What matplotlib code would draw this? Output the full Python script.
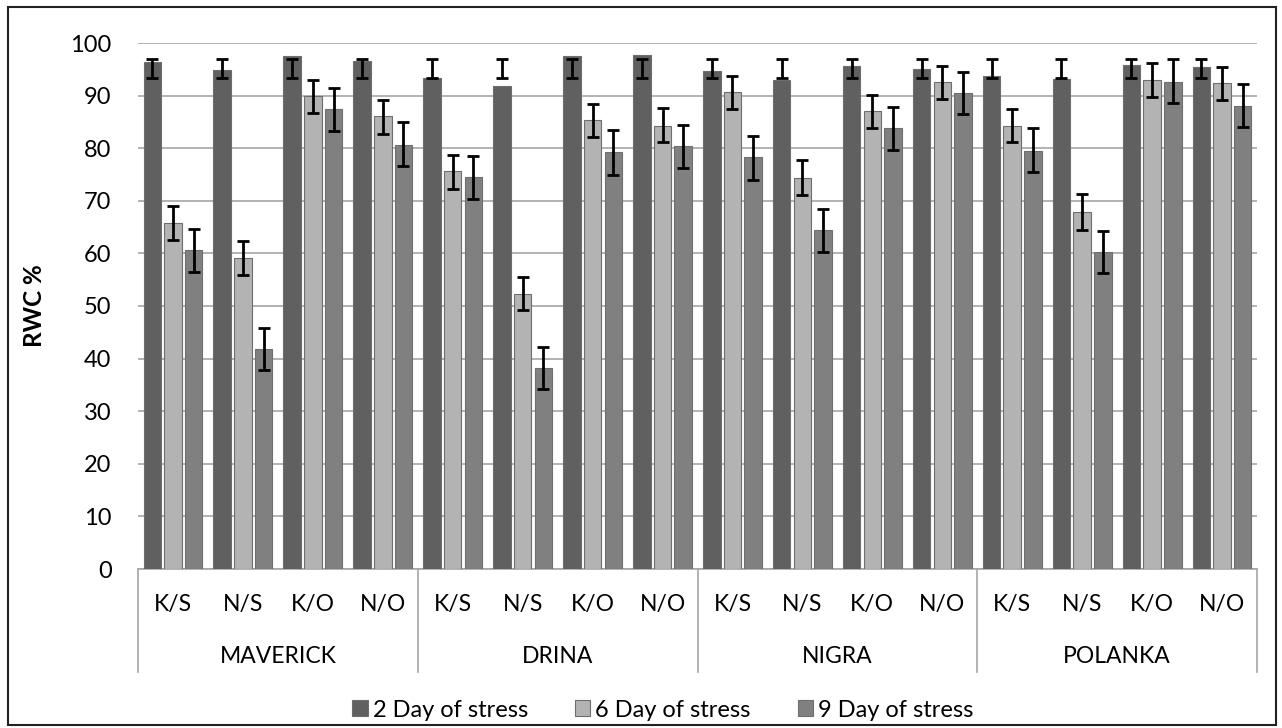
import numpy as np
import matplotlib.pyplot as plt
from matplotlib.patches import Patch, Rectangle
import matplotlib.transforms as mtransforms

plt.rcParams['font.family'] = ['Lato', 'DejaVu Sans']

# data
varieties = ['MAVERICK', 'DRINA', 'NIGRA', 'POLANKA']
treatments = ['K/S', 'N/S', 'K/O', 'N/O']
series_names = ['2 Day of stress', '6 Day of stress', '9 Day of stress']

day2 = [96.4, 94.9, 97.5, 96.5,  93.4, 91.9, 97.5, 97.8,
        94.7, 93.0, 95.6, 95.1,  93.7, 93.2, 95.8, 95.4]
day6 = [65.7, 59.1, 90.0, 86.1,  75.7, 52.3, 85.4, 84.3,
        90.7, 74.4, 87.1, 92.6,  84.3, 67.9, 92.9, 92.4]
day9 = [60.6, 41.8, 87.5, 80.7,  74.5, 38.2, 79.2, 80.5,
        78.3, 64.4, 83.9, 90.5,  79.5, 60.3, 92.6, 88.1]

# error bar ends (low, high) as drawn in the original
day2_lo = [93.3] * 16
day2_hi = [96.9] * 16
day6_lo = [62.6, 55.8, 86.6, 82.7,  72.3, 49.2, 82.1, 81.1,
           87.4, 71.1, 83.8, 89.3,  81.1, 64.5, 89.8, 89.1]
day6_hi = [69.0, 62.4, 93.0, 89.1,  78.7, 55.5, 88.4, 87.7,
           93.8, 77.7, 90.1, 95.7,  87.4, 71.2, 96.2, 95.5]
day9_lo = [56.5, 37.8, 83.3, 76.7,  70.3, 34.2, 75.0, 76.2,
           74.0, 60.2, 79.6, 86.5,  75.5, 56.2, 88.6, 84.0]
day9_hi = [64.6, 45.9, 91.5, 85.0,  78.5, 42.3, 83.4, 84.5,
           82.3, 68.4, 87.9, 94.5,  83.8, 64.3, 96.9, 92.2]

colors = ['#606060', '#b3b3b3', '#808080']
fs = 16.5

fig = plt.figure(figsize=(12.82, 7.28), dpi=100)
ax = fig.add_axes([138 / 1282, 1 - 569 / 728, 1119 / 1282, 526 / 728])

x = np.arange(len(day2))
offsets = [-0.296, 0.0, 0.296]
width = 0.25
values = [day2, day6, day9]
lows = [day2_lo, day6_lo, day9_lo]
highs = [day2_hi, day6_hi, day9_hi]

for i in range(3):
    ax.bar(x + offsets[i], values[i], width, color=colors[i],
           edgecolor='#6e6e6e', linewidth=0.8, zorder=3)
    lo = np.array(lows[i])
    hi = np.array(highs[i])
    ax.errorbar(x + offsets[i], (lo + hi) / 2, yerr=(hi - lo) / 2, fmt='none',
                ecolor='black', elinewidth=2, capsize=4.5, capthick=2, zorder=4)

ax.set_ylim(0, 100)
ax.set_xlim(-0.5, 15.5)
ax.set_yticks(np.arange(0, 101, 10))
ax.yaxis.grid(True, color='#a6a6a6', linewidth=1.2, zorder=0)
ax.set_axisbelow(True)
for s in ['left', 'right', 'top']:
    ax.spines[s].set_visible(False)
ax.spines['bottom'].set_color('#a6a6a6')
ax.spines['bottom'].set_linewidth(1.2)
ax.tick_params(axis='y', length=0, pad=19, labelsize=17)
ax.set_xticks([])

ax.set_ylabel('RWC %', fontsize=17.5, fontweight='bold')
ax.yaxis.set_label_coords(-0.082, 0.5)

trans = mtransforms.blended_transform_factory(ax.transData, ax.transAxes)
for k in range(len(x)):
    ax.text(x[k], -0.068, treatments[k % 4], transform=trans,
            ha='center', va='center', fontsize=fs)
for g, name in enumerate(varieties):
    ax.text(g * 4 + 1.5, -0.167, name, transform=trans,
            ha='center', va='center', fontsize=fs)
for g in range(5):
    ax.plot([g * 4 - 0.5, g * 4 - 0.5], [0, -0.196], transform=trans,
            color='#a6a6a6', linewidth=1.2, clip_on=False)

handles = [Patch(facecolor=colors[i], edgecolor='#6e6e6e', linewidth=0.8)
           for i in range(3)]
fig.legend(handles, series_names, loc='center', bbox_to_anchor=(0.517, 0.0247),
           ncol=3, frameon=False, fontsize=17, handlelength=0.65,
           handleheight=0.65, handletextpad=0.2, columnspacing=2.0)

fig.patches.append(Rectangle((8 / 1282, 3 / 728), 1268 / 1282, 718 / 728,
                             transform=fig.transFigure, fill=False,
                             edgecolor='#222222', linewidth=1.5))

fig.savefig('out.png', dpi=100)
